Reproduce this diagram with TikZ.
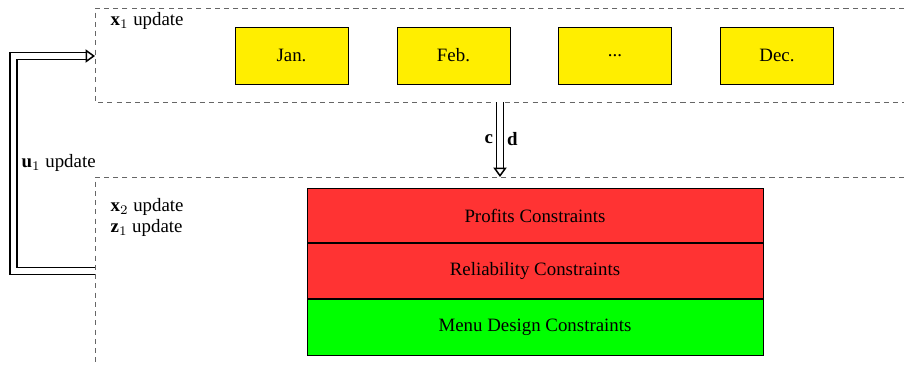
\documentclass[tikz,border=0pt]{standalone}
\usepackage{amsmath}
\usepackage{fontspec}
\setmainfont{Liberation Serif}
\usetikzlibrary{arrows.meta}

\definecolor{monthyellow}{RGB}{255,238,0}
\definecolor{consred}{RGB}{255,51,51}
\definecolor{consgreen}{RGB}{0,255,0}

\begin{document}
\begin{tikzpicture}[x=0.53pt, y=-0.53pt,
		month/.style = {draw, fill = monthyellow, minimum width = 60pt, minimum height = 30.2pt, inner sep = 0pt},
		cons/.style = {draw, minimum width = 241.7pt, minimum height = 29pt, inner sep = 0pt},
		blockline/.style = {gray!80!black, dash pattern = on 2.7pt off 2.2pt},
		feed/.style = {double, double distance = 3pt, thick, -{Triangle[open, length = 5pt, width = 7pt]}}]
	\useasboundingbox (0,0) rectangle (904,365);

	% dashed blocks
	\begin{scope}
		\coordinate (xTL) at (95,8);
		\coordinate (xIn) at (95,56);
		\coordinate (xBot) at (500,102);
		\coordinate (zTop) at (500,177);
		\coordinate (zOut) at (95,271);
		\draw [blockline] (904,8) -- (xTL) -- (95,102) -- (904,102);
		\draw [blockline] (904,177) -- (95,177) -- (95,365);
	\end{scope}

	% months
	\begin{scope}
		\node [month] (jan) at (291.5,55.5) {Jan.};
		\node [month] (feb) at (453.5,55.5) {Feb.};
		\node [month] (dots) at (615,55.5) {...};
		\node [month] (dec) at (777,55.5) {Dec.};
	\end{scope}

	% constraints
	\begin{scope}
		\node [cons, fill = consred] (profit) at (535,215.5) {Profits Constraints};
		\node [cons, fill = consred, anchor = north] (reliab) at (profit.south) {Reliability Constraints};
		\node [cons, fill = consgreen, anchor = north, minimum height = 30pt] (menu) at (reliab.south) {Menu Design Constraints};
	\end{scope}

	% labels
	\node [anchor = west] (xlab) at (104,21) {$\mathbf{x}_1$ update};
	\node [anchor = west] (x2lab) at (104,207) {$\mathbf{x}_2$ update};
	\node [anchor = west] (z1lab) at (104,228) {$\mathbf{z}_1$ update};
	\node [anchor = west] (ulab) at (15,163) {$\mathbf{u}_1$ update};

	% arrows
	\draw [feed] (zOut) -| (13.5,56) -- (xIn);
	\draw [feed] (xBot) -- node [left] {$\mathbf{c}$} node [right] {$\mathbf{d}$} (zTop);
\end{tikzpicture}
\end{document}
